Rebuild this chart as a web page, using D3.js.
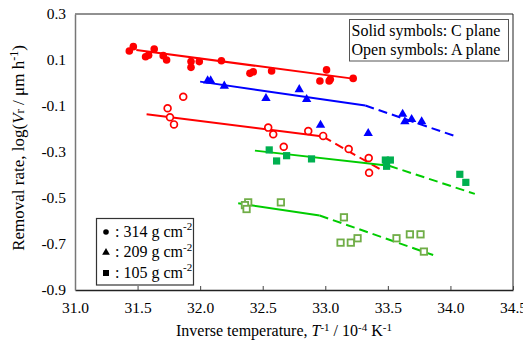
<!DOCTYPE html>
<html>
<head>
<meta charset="utf-8">
<script src="https://cdn.jsdelivr.net/npm/d3@7"></script>
<style>
  html, body { margin: 0; padding: 0; background: #fff; }
  svg { display: block; }
  text { font-family: "Liberation Serif", "Times New Roman", serif; fill: #000; }
</style>
</head>
<body>
<svg id="chart" width="523" height="342"></svg>
<script>
// Axis ticks
const xTicks = [31.0, 31.5, 32.0, 32.5, 33.0, 33.5, 34.0, 34.5];
const yTicks = [0.3, 0.1, -0.1, -0.3, -0.5, -0.7, -0.9];

// 314 g cm-2, C plane (solid circles)
const c314X = [31.434, 31.466, 31.564, 31.588, 31.633, 31.705, 31.732, 31.927, 31.927, 31.993, 32.17,
               32.398, 32.424, 32.571, 32.957, 33.01, 33.031, 33.04, 33.223];
const c314Y = [0.139, 0.158, 0.114, 0.121, 0.148, 0.119, 0.100, 0.093, 0.068, 0.093, 0.097,
               0.042, 0.049, 0.052, 0.009, 0.057, 0.009, 0.016, 0.020];

// 209 g cm-2, C plane (solid triangles)
const c209X = [32.06, 32.084, 32.193, 32.526, 32.792, 32.851, 32.962, 33.343, 33.618, 33.636, 33.69, 33.77];
const c209Y = [0.010, 0.010, -0.013, -0.067, -0.028, -0.071, -0.183, -0.219, -0.135, -0.168, -0.158, -0.168];

// 105 g cm-2, C plane (solid squares)
const c105X = [32.552, 32.611, 32.691, 32.89, 33.48, 33.52, 33.49, 34.075, 34.123];
const c105Y = [-0.291, -0.339, -0.316, -0.330, -0.335, -0.335, -0.362, -0.397, -0.432];

// 314 g cm-2, A plane (open circles)
const a314X = [31.865, 31.74, 31.759, 31.791, 32.544, 32.584, 32.668, 32.864, 32.983, 33.187, 33.347, 33.35];
const a314Y = [-0.060, -0.110, -0.149, -0.180, -0.194, -0.223, -0.277, -0.209, -0.230, -0.287, -0.326, -0.390];

// 105 g cm-2, A plane (open squares)
const a105X = [32.384, 32.358, 32.371, 32.645, 33.149, 33.122, 33.204, 33.258, 33.569, 33.676, 33.761, 33.788];
const a105Y = [-0.519, -0.531, -0.548, -0.519, -0.584, -0.694, -0.694, -0.675, -0.675, -0.658, -0.658, -0.733];

// Fitted lines: [start, break, end]; solid up to the break, dashed after it
const fitC314X = [31.49, 33.22];
const fitC314Y = [0.143, 0.019];
const fitC209X = [32.0, 33.32, 34.06];
const fitC209Y = [0.006, -0.098, -0.235];
const fitA314X = [31.572, 32.983, 33.46];
const fitA314Y = [-0.136, -0.233, -0.382];
const fitC105X = [32.438, 33.51, 34.195];
const fitC105Y = [-0.294, -0.360, -0.482];
const fitA105X = [32.304, 32.955, 33.862];
const fitA105Y = [-0.523, -0.576, -0.748];

const svg = d3.select("#chart");
const plotL = 75, plotR = 513, plotT = 14, plotB = 290;

const x = d3.scaleLinear().domain([31.0, 34.5]).range([plotL, plotR]);
const y = d3.scaleLinear().domain([-0.9, 0.3]).range([plotB, plotT]);

// Plot frame
svg.append("line").attr("x1", plotL).attr("x2", plotR).attr("y1", plotT).attr("y2", plotT)
  .attr("stroke", "#222").attr("stroke-width", 1);
svg.append("line").attr("x1", plotR).attr("x2", plotR).attr("y1", plotT).attr("y2", plotB)
  .attr("stroke", "#222").attr("stroke-width", 1);

// X axis with inward ticks
const xAxis = svg.append("g").attr("transform", `translate(0,${plotB})`)
  .call(d3.axisBottom(x).tickValues(xTicks).tickFormat(d3.format(".1f")).tickSizeInner(-4).tickSizeOuter(0).tickPadding(12));
xAxis.select(".domain").attr("stroke", "#222").attr("stroke-width", 1.5);
xAxis.selectAll(".tick line").attr("stroke", "#444");
xAxis.selectAll("text").attr("font-size", "15.5px").attr("font-family", "Liberation Serif");

// Y axis
const yAxis = svg.append("g").attr("transform", `translate(${plotL},0)`)
  .call(d3.axisLeft(y).tickValues(yTicks).tickFormat(d3.format(".1f")).tickSize(0).tickPadding(9));
yAxis.select(".domain").attr("stroke", "#777").attr("stroke-width", 1.5);
yAxis.selectAll("text").attr("font-size", "15.5px").attr("font-family", "Liberation Serif")
  .text(d => d3.format(".1f")(d).replace("−", "-"));

// Fit lines
const line = d3.line().x(d => x(d[0])).y(d => y(d[1]));
function drawFit(xs, ys, color) {
  const pts = xs.map((v, i) => [v, ys[i]]);
  svg.append("path").datum(pts.slice(0, 2)).attr("d", line)
    .attr("fill", "none").attr("stroke", color).attr("stroke-width", 2);
  if (pts.length > 2) {
    svg.append("path").datum(pts.slice(1)).attr("d", line)
      .attr("fill", "none").attr("stroke", color).attr("stroke-width", 2)
      .attr("stroke-dasharray", "9,5");
  }
}
drawFit(fitC314X, fitC314Y, "#ff0000");
drawFit(fitC209X, fitC209Y, "#0000ff");
drawFit(fitA314X, fitA314Y, "#ff0000");
drawFit(fitC105X, fitC105Y, "#00cc00");
drawFit(fitA105X, fitA105Y, "#00cc00");

// Markers
function pts(xs, ys) { return xs.map((v, i) => [v, ys[i]]); }
const g = svg.append("g");
g.selectAll(".c314").data(pts(c314X, c314Y)).join("circle")
  .attr("cx", d => x(d[0])).attr("cy", d => y(d[1])).attr("r", 3.8).attr("fill", "#ff0000");
g.selectAll(".a314").data(pts(a314X, a314Y)).join("circle")
  .attr("cx", d => x(d[0])).attr("cy", d => y(d[1])).attr("r", 3.4)
  .attr("fill", "#fff").attr("stroke", "#ff0000").attr("stroke-width", 1.7);
const tri = d3.symbol().type(d3.symbolTriangle).size(38);
g.selectAll(".c209").data(pts(c209X, c209Y)).join("path")
  .attr("d", tri).attr("transform", d => `translate(${x(d[0])},${y(d[1])})`).attr("fill", "#0000ff");
g.selectAll(".c105").data(pts(c105X, c105Y)).join("rect")
  .attr("x", d => x(d[0]) - 3.6).attr("y", d => y(d[1]) - 3.6).attr("width", 7.2).attr("height", 7.2)
  .attr("fill", "#00b050");
g.selectAll(".a105").data(pts(a105X, a105Y)).join("rect")
  .attr("x", d => x(d[0]) - 3.2).attr("y", d => y(d[1]) - 3.2).attr("width", 6.4).attr("height", 6.4)
  .attr("fill", "#fff").attr("stroke", "#70ad47").attr("stroke-width", 1.8);

// Plane legend (top right)
svg.append("rect").attr("x", 349.5).attr("y", 19.5).attr("width", 159).attr("height", 41.5)
  .attr("fill", "#fff").attr("stroke", "#555").attr("stroke-width", 1);
svg.append("text").attr("x", 351.5).attr("y", 36).attr("font-size", "16px").text("Solid symbols: C plane");
svg.append("text").attr("x", 351.5).attr("y", 55).attr("font-size", "16px").text("Open symbols: A plane");

// Load legend (bottom left)
svg.append("rect").attr("x", 96.5).attr("y", 218.5).attr("width", 97).attr("height", 66.5)
  .attr("fill", "#fff").attr("stroke", "#333").attr("stroke-width", 1.2);
const loads = ["314", "209", "105"];
const legY = [236.5, 257, 277.5];
loads.forEach((lab, i) => {
  const cy = legY[i] - 4.5;
  if (i === 0) svg.append("circle").attr("cx", 106).attr("cy", cy).attr("r", 2.8).attr("fill", "#000");
  if (i === 1) svg.append("path").attr("d", d3.symbol().type(d3.symbolTriangle).size(26))
    .attr("transform", `translate(106,${cy})`).attr("fill", "#000");
  if (i === 2) svg.append("rect").attr("x", 103).attr("y", cy - 3).attr("width", 6).attr("height", 6).attr("fill", "#000");
  const t = svg.append("text").attr("x", 115).attr("y", legY[i]).attr("font-size", "16px");
  t.append("tspan").text(": " + lab + " g cm");
  t.append("tspan").attr("dy", -6.5).attr("font-size", "11px").text("-2");
});

// Axis titles
const xt = svg.append("text").attr("x", 284).attr("y", 336).attr("text-anchor", "middle").attr("font-size", "16px");
xt.append("tspan").text("Inverse temperature, ");
xt.append("tspan").attr("font-style", "italic").text("T");
xt.append("tspan").attr("dy", -5.5).attr("font-size", "11px").text("-1");
xt.append("tspan").attr("dy", 5.5).text(" / 10");
xt.append("tspan").attr("dy", -5.5).attr("font-size", "11px").text("-4");
xt.append("tspan").attr("dy", 5.5).text(" K");
xt.append("tspan").attr("dy", -5.5).attr("font-size", "11px").text("-1");

const yt = svg.append("text").attr("transform", "translate(24,148) rotate(-90)")
  .attr("text-anchor", "middle").attr("font-size", "17px");
yt.append("tspan").text("Removal rate, log(");
yt.append("tspan").attr("font-style", "italic").text("V");
yt.append("tspan").attr("font-size", "13px").text("r");
yt.append("tspan").text(" / μm h");
yt.append("tspan").attr("dy", -6).attr("font-size", "12px").text("-1");
yt.append("tspan").attr("dy", 6).text(")");
</script>
</body>
</html>
